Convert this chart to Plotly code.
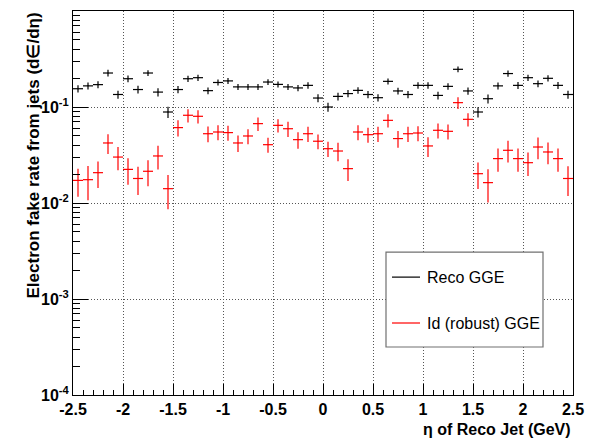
import plotly.graph_objects as go

# eta bin centres (50 bins of width 0.1 between -2.5 and 2.5)
eta = [round(-2.45 + 0.1 * i, 2) for i in range(50)]
bin_half_width = 0.05

# Reco GGE fake rate per eta bin
reco_rate = [0.155, 0.166, 0.171, 0.226, 0.135, 0.197, 0.152, 0.226, 0.143, 0.0887,
             0.152, 0.197, 0.202, 0.148, 0.180, 0.187, 0.162, 0.162, 0.162, 0.182,
             0.172, 0.162, 0.158, 0.168, 0.124, 0.100, 0.129, 0.138, 0.149, 0.135,
             0.125, 0.185, 0.147, 0.135, 0.168, 0.168, 0.132, 0.164, 0.247, 0.147,
             0.0887, 0.122, 0.166, 0.223, 0.168, 0.202, 0.175, 0.199, 0.168, 0.135]
reco_err = [0.013, 0.014, 0.014, 0.018, 0.013, 0.016, 0.014, 0.016, 0.014, 0.012,
            0.013, 0.015, 0.015, 0.012, 0.013, 0.013, 0.012, 0.012, 0.012, 0.013,
            0.012, 0.012, 0.012, 0.013, 0.012, 0.011, 0.012, 0.012, 0.012, 0.012,
            0.011, 0.013, 0.012, 0.012, 0.013, 0.013, 0.012, 0.013, 0.017, 0.013,
            0.011, 0.013, 0.014, 0.017, 0.014, 0.015, 0.014, 0.015, 0.014, 0.013]

# Id (robust) GGE fake rate per eta bin
id_rate = [0.0172, 0.0175, 0.0207, 0.0422, 0.0301, 0.0224, 0.0180, 0.0214, 0.0309, 0.0141,
           0.0610, 0.0820, 0.0800, 0.0527, 0.0549, 0.0541, 0.0422, 0.0499, 0.0671, 0.0405,
           0.0644, 0.0594, 0.0457, 0.0527, 0.0440, 0.0368, 0.0348, 0.0228, 0.0549, 0.0515,
           0.0527, 0.0726, 0.0469, 0.0527, 0.0536, 0.0393, 0.0572, 0.0558, 0.1110, 0.0744,
           0.0202, 0.0163, 0.0290, 0.0354, 0.0290, 0.0263, 0.0383, 0.0340, 0.0290, 0.0180]
id_err = [0.0056, 0.0068, 0.0064, 0.0099, 0.0082, 0.0069, 0.0059, 0.0065, 0.0086, 0.0055,
          0.0116, 0.0130, 0.0127, 0.0098, 0.0098, 0.0096, 0.0083, 0.0089, 0.0107, 0.0072,
          0.0102, 0.0106, 0.0090, 0.0094, 0.0078, 0.0066, 0.0075, 0.0058, 0.0098, 0.0092,
          0.0094, 0.0115, 0.0092, 0.0094, 0.0095, 0.0092, 0.0102, 0.0099, 0.0154, 0.0118,
          0.0062, 0.0062, 0.0079, 0.0090, 0.0079, 0.0072, 0.0097, 0.0086, 0.0079, 0.0062]

x_ticks = [-2.5, -2.0, -1.5, -1.0, -0.5, 0.0, 0.5, 1.0, 1.5, 2.0, 2.5]
x_ticktext = ["-2.5", "-2", "-1.5", "-1", "-0.5", "0", "0.5", "1", "1.5", "2", "2.5"]
y_ticks = [1e-4, 1e-3, 1e-2, 1e-1]
y_ticktext = ["10<sup>-4</sup>", "10<sup>-3</sup>", "10<sup>-2</sup>", "10<sup>-1</sup>"]
y_minor = [k * 10.0 ** e for e in range(-4, 0) for k in range(2, 10)]

series = [
    ("Reco GGE", reco_rate, reco_err, "#000000"),
    ("Id (robust) GGE", id_rate, id_err, "#ff0000"),
]

FONT = "Liberation Sans, Arial, Helvetica, sans-serif"

fig = go.Figure()
for name, vals, errs, col in series:
    fig.add_trace(go.Scatter(
        x=eta, y=vals, mode="markers", name=name,
        marker=dict(size=1, color=col),
        error_x=dict(type="constant", value=bin_half_width, width=0, thickness=1.2, color=col),
        error_y=dict(type="data", array=errs, visible=True, width=0, thickness=1.2, color=col),
        showlegend=False,
    ))

# hand-drawn legend box in the lower right
box = dict(x0=0.626, x1=0.94, y0=0.125, y1=0.372)
fig.add_shape(type="rect", xref="paper", yref="paper", **box,
              line=dict(color="#707070", width=1.2), fillcolor="white", layer="above")
legend_rows = [0.307, 0.1875]
for (name, _, _, col), yy in zip(series, legend_rows):
    fig.add_shape(type="line", xref="paper", yref="paper", x0=0.638, x1=0.694, y0=yy, y1=yy,
                  line=dict(color=col, width=1.2), layer="above")
    fig.add_annotation(xref="paper", yref="paper", x=0.704, y=yy, text=name, showarrow=False,
                       xanchor="left", yanchor="middle",
                       font=dict(family=FONT, size=16, color="black"))

# axis titles
fig.add_annotation(xref="paper", yref="paper", x=0.999, y=-0.089, text="η of Reco Jet (GeV)",
                   showarrow=False, xanchor="right", yanchor="middle",
                   font=dict(family=FONT, size=16, color="black", weight="bold"))
fig.add_annotation(xref="paper", yref="paper", x=-0.081, y=1.0, text="Electron fake rate from jets (d∈/dη)",
                   showarrow=False, textangle=-90, xanchor="center", yanchor="top",
                   font=dict(family=FONT, size=17, color="black", weight="bold"))

axis_common = dict(
    showline=True, linecolor="black", linewidth=1, mirror=True,
    ticks="inside", tickcolor="black", tickwidth=1,
    showgrid=True, gridcolor="#555555", griddash="1px,2px", gridwidth=1,
    zeroline=False,
)

fig.update_xaxes(
    range=[-2.5, 2.5], tickmode="array", tickvals=x_ticks, ticktext=x_ticktext,
    tickfont=dict(family=FONT, size=16, color="black", weight="bold"),
    ticklen=11, minor=dict(ticks="inside", dtick=0.1, tick0=-2.5, ticklen=5, tickcolor="black", showgrid=False),
    **axis_common,
)
fig.update_yaxes(
    type="log", range=[-4, 0], tickmode="array", tickvals=y_ticks, ticktext=y_ticktext,
    tickfont=dict(family=FONT, size=16, color="black", weight="bold"),
    ticklen=15, minor=dict(ticks="inside", tickmode="array", tickvals=y_minor, ticklen=7,
                           tickcolor="black", showgrid=False),
    **axis_common,
)

fig.update_layout(
    width=594, height=445,
    margin=dict(l=73, r=21, t=11, b=50),
    paper_bgcolor="white", plot_bgcolor="white",
    font=dict(family=FONT, color="black"),
)

fig.write_html("out.html")
